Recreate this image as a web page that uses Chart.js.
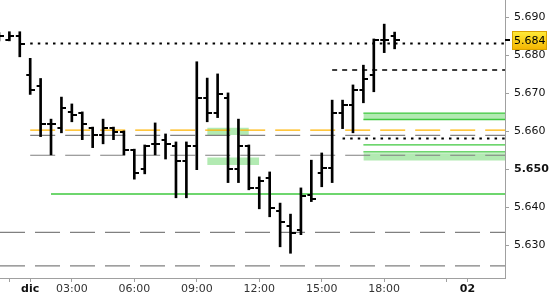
<!DOCTYPE html>
<html>
<head>
<meta charset="utf-8">
<script src="https://cdn.jsdelivr.net/npm/chart.js@4.4.1/dist/chart.umd.min.js"></script>
<style>
  html, body { margin: 0; padding: 0; background: #fff; }
  #wrap { width: 550px; height: 300px; position: relative; }
</style>
</head>
<body>
<div id="wrap"><canvas id="chart"></canvas></div>
<script>
// half-hour OHLC bars, x in hours of the day
const barHours = [-0.5, 0, 0.5, 1, 1.5, 2, 2.5, 3, 3.5, 4, 4.5, 5, 5.5, 6, 6.5, 7, 7.5, 8, 8.5, 9, 9.5,
    10, 10.5, 11, 11.5, 12, 12.5, 13, 13.5, 14, 14.5, 15, 15.5, 16, 16.5, 17, 17.5, 18, 18.5];
const opens = [5.6848, 5.6840, 5.6851, 5.6747, 5.6718, 5.6619, 5.6609, 5.6651, 5.6648, 5.6609, 5.6590,
    5.6609, 5.6598, 5.6551, 5.6501, 5.6567, 5.6578, 5.6561, 5.6522, 5.6561, 5.6688, 5.6648, 5.6688,
    5.6501, 5.6561, 5.6451, 5.6477, 5.6390, 5.6351, 5.6340, 5.6433, 5.6490, 5.6503, 5.6648, 5.6669,
    5.6709, 5.6748, 5.6840, 5.6851];
const highs = [5.6860, 5.6862, 5.6862, 5.6792, 5.6739, 5.6632, 5.6690, 5.6672, 5.6651, 5.6611, 5.6632,
    5.6611, 5.6601, 5.6553, 5.6564, 5.6622, 5.6593, 5.6572, 5.6572, 5.6783, 5.6740, 5.6751, 5.6701,
    5.6632, 5.6564, 5.6480, 5.6493, 5.6411, 5.6382, 5.6451, 5.6524, 5.6543, 5.6682, 5.6682, 5.6722,
    5.6774, 5.6843, 5.6882, 5.6861];
const lows = [5.6838, 5.6838, 5.6796, 5.6697, 5.6586, 5.6538, 5.6596, 5.6625, 5.6578, 5.6557, 5.6567,
    5.6578, 5.6538, 5.6474, 5.6488, 5.6538, 5.6527, 5.6425, 5.6425, 5.6499, 5.6625, 5.6636, 5.6465,
    5.6465, 5.6446, 5.6396, 5.6375, 5.6296, 5.6279, 5.6328, 5.6415, 5.6454, 5.6465, 5.6607, 5.6596,
    5.6675, 5.6704, 5.6807, 5.6817];
const closes = [5.6851, 5.6851, 5.6831, 5.6708, 5.6619, 5.6619, 5.6661, 5.6643, 5.6619, 5.6590, 5.6609,
    5.6598, 5.6551, 5.6490, 5.6561, 5.6567, 5.6567, 5.6522, 5.6561, 5.6688, 5.6648, 5.6698, 5.6501,
    5.6561, 5.6451, 5.6469, 5.6398, 5.6361, 5.6332, 5.6430, 5.6422, 5.6503, 5.6648, 5.6669, 5.6709,
    5.6738, 5.6840, 5.6840, 5.6840];
const lastPrice = 5.684;

// axes
const xMin = -0.45, xMax = 23.8;
const xTickHours = [0, 1, 3, 6, 9, 12, 15, 18, 21, 22];
const xTickLabels = ['', 'dic', '03:00', '06:00', '09:00', '12:00', '15:00', '18:00', '', '02'];
const yMin = 5.62139, yMax = 5.69455;
const yTicks = [5.630, 5.640, 5.650, 5.660, 5.670, 5.680, 5.690];
const yBoldTick = 5.650;

// horizontal levels
const levelValues = [5.6831, 5.6603, 5.6589, 5.6537, 5.6334, 5.6246, 5.6435, 5.6761, 5.6581,
    5.6648, 5.6631, 5.6564, 5.6546];
const levelStarts = [1, 1, 1, 1, xMin, xMin, 2, 15.5, 16, 17, 17, 17, 17];
const levelKinds = ['dot', 'orange', 'gray', 'gray', 'gray', 'gray', 'green', 'dash', 'dot',
    'green', 'green', 'green', 'green'];

// shaded zones
const bandTops = [5.6609, 5.6531, 5.6648, 5.6542];
const bandBottoms = [5.6590, 5.6511, 5.6631, 5.6523];
const bandStarts = [9.5, 9.5, 17, 17];
const bandEnds = [11.5, 12, xMax, xMax];

const lineStyles = {
    dot:    { color: '#000000', width: 2,   dash: [2.5, 5.1] },
    dash:   { color: '#000000', width: 1.5, dash: [5, 5] },
    orange: { color: '#FFB400', width: 1.2, dash: [25, 10] },
    gray:   { color: '#808080', width: 1.2, dash: [25, 10] },
    green:  { color: '#3EC83E', width: 1.3, dash: [] }
};

function tickImage(left) {
    const c = document.createElement('canvas');
    c.width = 10; c.height = 2;
    const g = c.getContext('2d');
    g.fillStyle = '#000';
    if (left) g.fillRect(1, 0, 4, 2); else g.fillRect(5, 0, 5, 2);
    return c;
}

const datasets = [];
datasets.push({
    type: 'bar',
    data: barHours.map((h, i) => ({ x: h, y: [lows[i], highs[i]] })),
    backgroundColor: '#000',
    borderWidth: 0,
    barThickness: 2,
    order: 0
});
datasets.push({
    type: 'line', showLine: false,
    data: barHours.map((h, i) => ({ x: h, y: opens[i] })),
    pointStyle: tickImage(true), pointRadius: 5, pointBorderWidth: 0,
    order: 0
});
datasets.push({
    type: 'line', showLine: false,
    data: barHours.map((h, i) => ({ x: h, y: closes[i] })),
    pointStyle: tickImage(false), pointRadius: 5, pointBorderWidth: 0,
    order: 0
});
levelValues.forEach((v, i) => {
    const s = lineStyles[levelKinds[i]];
    datasets.push({
        type: 'line',
        data: [{ x: levelStarts[i], y: v }, { x: xMax, y: v }],
        borderColor: s.color, borderWidth: s.width, borderDash: s.dash,
        pointRadius: 0, fill: false, tension: 0,
        order: 1
    });
});
bandTops.forEach((v, i) => {
    datasets.push({
        type: 'line',
        data: [{ x: bandStarts[i], y: v }, { x: bandEnds[i], y: v }],
        borderWidth: 0, pointRadius: 0,
        fill: { value: bandBottoms[i] },
        backgroundColor: '#B2EAB2',
        order: 2
    });
});

const priceTag = {
    id: 'priceTag',
    afterDraw(chart) {
        const ctx = chart.ctx;
        const y = Math.round(chart.scales.y.getPixelForValue(lastPrice));
        const r = chart.chartArea.right;
        ctx.save();
        ctx.fillStyle = '#000';
        ctx.fillRect(r, y - 1, 5, 2);
        const top = y - 9;
        const g = ctx.createLinearGradient(0, top, 0, top + 19);
        g.addColorStop(0, '#FFEC3A');
        g.addColorStop(1, '#F4B400');
        ctx.fillStyle = g;
        ctx.fillRect(r + 7, top, 35, 19);
        ctx.strokeStyle = '#D8A200';
        ctx.lineWidth = 1;
        ctx.strokeRect(r + 7.5, top + 0.5, 34, 18);
        ctx.fillStyle = '#000';
        ctx.font = '11px "DejaVu Sans"';
        ctx.textBaseline = 'middle';
        ctx.fillText(lastPrice.toFixed(3), r + 9, y + 1);
        ctx.restore();
    }
};

const axisGray = '#A0A0A0';
new Chart(document.getElementById('chart'), {
    type: 'line',
    data: { datasets: datasets },
    options: {
        responsive: true,
        maintainAspectRatio: false,
        animation: false,
        events: [],
        layout: { padding: 0, autoPadding: false },
        plugins: { legend: { display: false }, tooltip: { enabled: false } },
        scales: {
            x: {
                type: 'linear', min: xMin, max: xMax, offset: false,
                grid: { drawOnChartArea: false, tickLength: 4, color: axisGray, offset: false },
                border: { color: axisGray },
                ticks: {
                    autoSkip: false, maxRotation: 0, padding: 1,
                    color: ctx => xTickLabels[ctx.index] === 'dic' || xTickLabels[ctx.index] === '02' ? '#111' : '#333',
                    font: ctx => ({ family: 'DejaVu Sans', size: 11,
                        weight: (xTickLabels[ctx.index] === 'dic' || xTickLabels[ctx.index] === '02') ? 'bold' : 'normal' }),
                    callback: (v, i) => xTickLabels[i]
                },
                afterBuildTicks: s => { s.ticks = xTickHours.map(v => ({ value: v })); },
                afterFit: s => { s.height = 22; s.paddingLeft = 0; s.paddingRight = 0; }
            },
            y: {
                type: 'linear', position: 'right', min: yMin, max: yMax,
                grid: { drawOnChartArea: false, tickLength: 4, color: axisGray },
                border: { color: axisGray },
                ticks: {
                    padding: 5, color: '#111',
                    font: ctx => ({ family: 'DejaVu Sans', size: 11,
                        weight: ctx.tick && Math.abs(ctx.tick.value - yBoldTick) < 1e-6 ? 'bold' : 'normal' }),
                    callback: v => v.toFixed(3)
                },
                afterBuildTicks: s => { s.ticks = yTicks.map(v => ({ value: v })); },
                afterFit: s => { s.width = 45; s.paddingTop = 0; s.paddingBottom = 0; }
            }
        }
    },
    plugins: [priceTag]
});
</script>
</body>
</html>
